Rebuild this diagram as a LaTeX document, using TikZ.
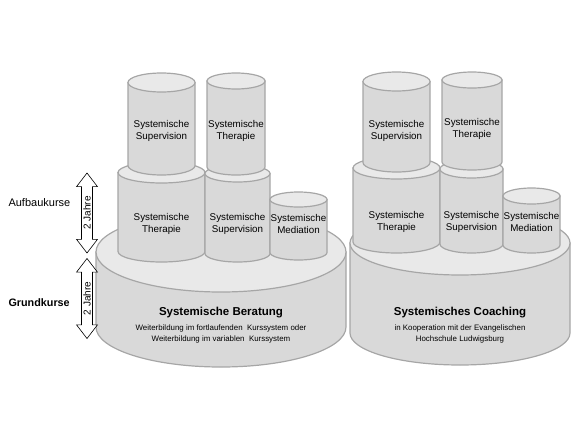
\documentclass[tikz,border=0pt]{standalone}
\usepackage{fontspec}
\setmainfont{Liberation Sans}
\usepackage{tikz}
\usetikzlibrary{shapes.arrows}

\definecolor{mantel}{HTML}{D9D9D9}
\definecolor{deckel}{HTML}{E9E9E9}
\definecolor{rand}{HTML}{A6A6A6}

% cylinder: center x, top y, bottom y, x radius, y radius
\newcommand{\zylinder}[5]{%
  \filldraw[zyl] (#1-#4,#2) -- (#1-#4,#3)
    arc[start angle=180, end angle=0, x radius=#4, y radius=#5] -- (#1+#4,#2) -- cycle;
  \filldraw[zyl, fill=deckel] (#1,#2) ellipse[x radius=#4, y radius=#5];
}

\begin{document}
\begin{tikzpicture}[x=1pt, y=-1pt,
  zyl/.style={draw=rand, fill=mantel, line width=1.2pt},
  kurs/.style={align=center, font=\fontsize{9.8}{11.5}\selectfont},
  titel/.style={font=\bfseries\fontsize{11.5}{12}\selectfont},
  unter/.style={align=center, font=\fontsize{7.9}{10.5}\selectfont},
  jahrpfeil/.style={double arrow, draw, fill=white, rotate=90, line width=0.6pt,
    minimum height=80pt, inner sep=1.5pt, double arrow head extend=5pt,
    double arrow tip angle=75, font=\fontsize{10}{10}\selectfont}]

  \useasboundingbox (0,0) rectangle (576,432);

  % Left stack
  \zylinder{221}{252}{327}{125}{40}
  \zylinder{161.5}{172.5}{251.5}{43.5}{10.5}
  \zylinder{237.5}{173.5}{253.5}{32.5}{8.5}
  \zylinder{298.5}{199.5}{252.5}{28.5}{7.5}
  \zylinder{161.5}{82.5}{165.5}{33.5}{9.5}
  \zylinder{236}{81}{167}{29}{8}

  \node[kurs] (lsup) at (161.5,131) {Systemische\\Supervision};
  \node[kurs] (lther) at (236,131) {Systemische\\Therapie};
  \node[kurs] (lther2) at (161.5,224) {Systemische\\Therapie};
  \node[kurs] (lsup2) at (237.5,224) {Systemische\\Supervision};
  \node[kurs] (lmed) at (298.5,224) {Systemische\\Mediation};
  \node[titel] (beratung) at (221,313) {Systemische Beratung};
  \node[unter] (beratungtxt) at (221,334)
    {Weiterbildung im fortlaufenden\ \ Kurssystem oder\\Weiterbildung im variablen\ \ Kurssystem};

  % Right stack
  \zylinder{460}{243}{333}{110}{32}
  \zylinder{396.5}{168}{242}{43.5}{11}
  \zylinder{471.5}{169}{244}{31.5}{9}
  \zylinder{531.5}{196}{245}{28.5}{8}
  \zylinder{396.5}{81.5}{162.5}{33.5}{9.5}
  \zylinder{472}{80}{162}{30}{8}

  \node[kurs] (rsup) at (396.5,131) {Systemische\\Supervision};
  \node[kurs] (rther) at (472,129) {Systemische\\Therapie};
  \node[kurs] (rther2) at (396.5,222) {Systemische\\Therapie};
  \node[kurs] (rsup2) at (471.5,222) {Systemische\\Supervision};
  \node[kurs] (rmed) at (531.5,222) {Systemische\\Mediation};
  \node[titel] (coaching) at (460,313) {Systemisches Coaching};
  \node[unter] (coachingtxt) at (460,334)
    {in Kooperation mit der Evangelischen\\Hochschule Ludwigsburg};

  % Duration arrows
  \node[jahrpfeil] (aufbaupfeil) at (87,213) {2 Jahre};
  \node[jahrpfeil] (grundpfeil) at (87,298.5) {2 Jahre};
  \node[anchor=west, font=\fontsize{11}{12}\selectfont] (aufbau) at (5,203) {Aufbaukurse};
  \node[anchor=west, font=\bfseries\fontsize{10.8}{12}\selectfont] (grund) at (5,303) {Grundkurse};

\end{tikzpicture}
\end{document}
